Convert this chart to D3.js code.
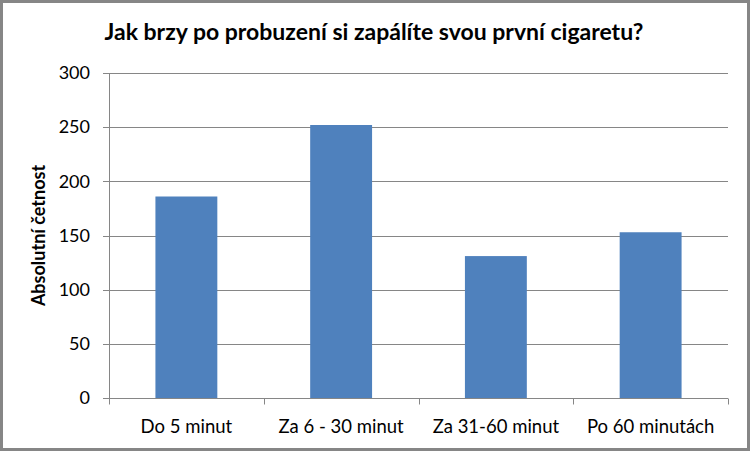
<!DOCTYPE html>
<html>
<head>
<meta charset="utf-8">
<script src="https://cdn.jsdelivr.net/npm/d3@7"></script>
<style>
  body { margin: 0; background: #fff; }
  text { font-family: Lato, "Open Sans", sans-serif; fill: #000; }
</style>
</head>
<body>
<script>
// data
var categories = ["Do 5 minut", "Za 6 - 30 minut", "Za 31-60 minut", "Po 60 minutách"];
var counts = [186, 252, 131, 153];
var yTicks = [0, 50, 100, 150, 200, 250, 300];

var W = 752, H = 452;
var margin = { top: 73, right: 24, bottom: 54, left: 109 },
  width = W - margin.left - margin.right,
  height = H - margin.top - margin.bottom;

var root = d3.select("body").append("svg")
  .attr("width", W)
  .attr("height", H);

// outer frame
root.append("rect")
  .attr("x", 1.5).attr("y", 1.5)
  .attr("width", 747).attr("height", 448)
  .attr("fill", "#fff")
  .attr("stroke", "#868686")
  .attr("stroke-width", 3);

var svg = root.append("g")
  .attr("transform", "translate(" + margin.left + "," + margin.top + ")");

var x = d3.scaleBand().domain(categories).range([0, width]);
var y = d3.scaleLinear().domain([0, 300]).range([height, 0]);

// gridlines (with left tick stubs)
svg.append("g")
  .selectAll("line")
  .data(yTicks)
  .enter()
  .append("line")
  .attr("x1", -6)
  .attr("x2", width)
  .attr("y1", function (d) { return Math.round(y(d)) + 0.5; })
  .attr("y2", function (d) { return Math.round(y(d)) + 0.5; })
  .attr("stroke", "#868686")
  .attr("stroke-width", 1);

// bars, Excel style gap width 150%
var barW = x.bandwidth() / 2.5;
svg.selectAll("rect.bar")
  .data(counts)
  .enter()
  .append("rect")
  .attr("class", "bar")
  .attr("x", function (d, i) { return x(categories[i]) + (x.bandwidth() - barW) / 2; })
  .attr("y", function (d) { return y(d); })
  .attr("width", barW)
  .attr("height", function (d) { return height - y(d); })
  .attr("fill", "#4F81BD");

// y axis
var yAxis = svg.append("g")
  .call(d3.axisLeft(y).tickValues(yTicks).tickSize(0).tickPadding(19));
yAxis.select(".domain").attr("stroke", "#868686").attr("d", "M0.5," + height + "V0");
yAxis.selectAll("text")
  .style("font-family", "Lato, sans-serif")
  .style("font-size", "18px")
  .attr("fill", "#000");

// x axis
var xAxis = svg.append("g")
  .attr("transform", "translate(0," + (Math.round(height) + 0.5) + ")");
xAxis.append("line")
  .attr("x1", -6).attr("x2", width)
  .attr("stroke", "#868686");
xAxis.selectAll("line.tick")
  .data(d3.range(categories.length + 1))
  .enter()
  .append("line")
  .attr("class", "tick")
  .attr("x1", function (i) { return Math.round(i * x.step()) + 0.5; })
  .attr("x2", function (i) { return Math.round(i * x.step()) + 0.5; })
  .attr("y1", 0).attr("y2", 6)
  .attr("stroke", "#868686");
xAxis.selectAll("text")
  .data(categories)
  .enter()
  .append("text")
  .attr("x", function (d) { return x(d) + x.bandwidth() / 2; })
  .attr("y", 34)
  .attr("text-anchor", "middle")
  .style("font-size", "18.5px")
  .text(function (d) { return d; });

// y label
root.append("text")
  .attr("transform", "translate(45," + (margin.top + height / 2) + ") rotate(-90)")
  .attr("text-anchor", "middle")
  .style("font-size", "18px")
  .style("font-weight", "bold")
  .text("Absolutní četnost");

// title
root.append("text")
  .attr("x", 374)
  .attr("y", 40)
  .attr("text-anchor", "middle")
  .style("font-size", "23px")
  .style("font-weight", "bold")
  .text("Jak brzy po probuzení si zapálíte svou první cigaretu?");
</script>
</body>
</html>
